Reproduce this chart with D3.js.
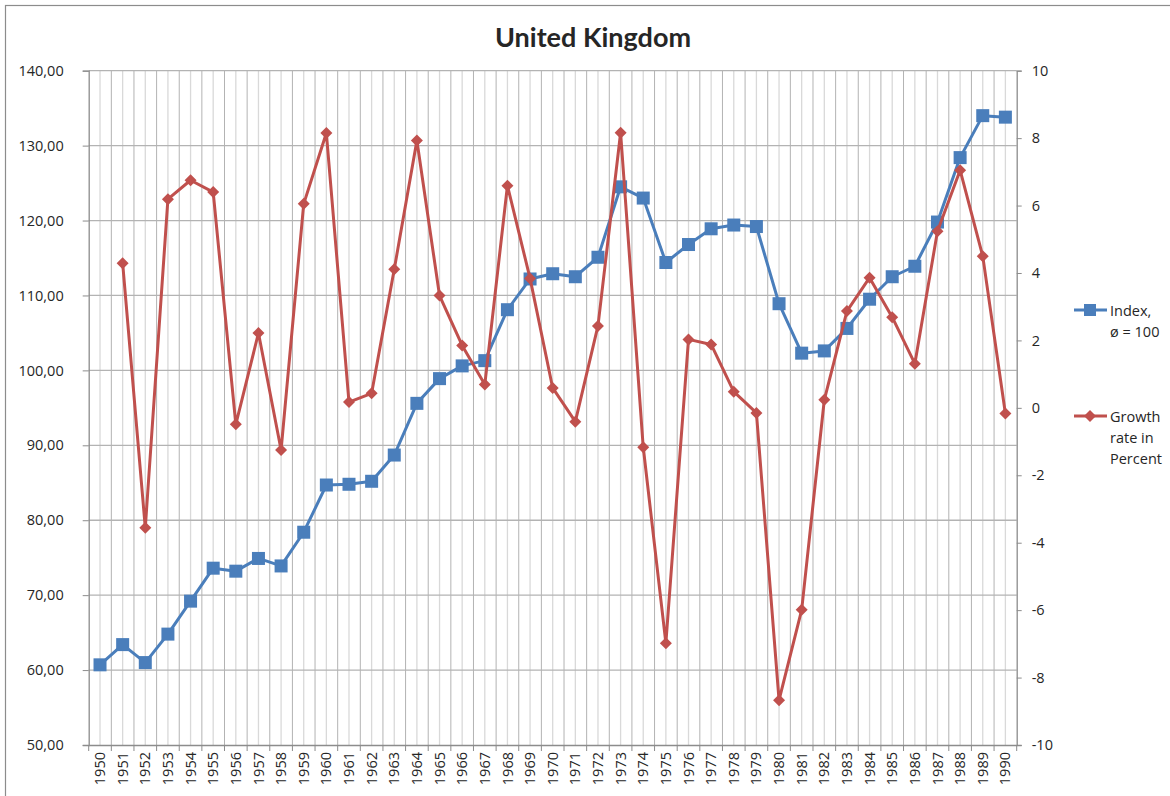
<!DOCTYPE html>
<html>
<head>
<meta charset="utf-8">
<script src="https://cdn.jsdelivr.net/npm/d3@7"></script>
<style>
  body { margin: 0; background: #fff; }
  text { font-family: "Open Sans", "Noto Sans", sans-serif; fill: #262626; }
</style>
</head>
<body>
<div id="chart"></div>
<script>
// Years on the category axis
const years = d3.range(1950, 1991).map(String);

// Index, ø = 100 (left axis)
const indexValues = [
    60.7, 63.4, 61.0, 64.8, 69.2, 73.6, 73.2, 74.9, 73.9, 78.4,
    84.7, 84.8, 85.2, 88.7, 95.6, 98.9, 100.6, 101.3, 108.1, 112.2,
    112.9, 112.5, 115.1, 124.5, 123.0, 114.4, 116.8, 118.9, 119.4, 119.2,
    108.9, 102.3, 102.6, 105.6, 109.5, 112.5, 113.9, 119.8, 128.4, 134.0, 133.8
];

// Growth rate in percent (right axis), none for 1950
const growthValues = [
    null, 4.29, -3.56, 6.19, 6.75, 6.40, -0.49, 2.22, -1.25, 6.05,
    8.15, 0.17, 0.43, 4.11, 7.93, 3.33, 1.85, 0.69, 6.59, 3.84,
    0.59, -0.41, 2.43, 8.16, -1.17, -6.98, 2.03, 1.88, 0.48, -0.15,
    -8.67, -5.99, 0.24, 2.87, 3.86, 2.69, 1.31, 5.24, 7.05, 4.50, -0.17
];

const leftTicks = d3.range(50, 141, 10);
const rightTicks = d3.range(-10, 11, 2);

const W = 1170, H = 796;
const plot = { left: 88.7, right: 1016.7, top: 70.7, bottom: 745 };

const svg = d3.select("#chart")
    .append("svg")
    .attr("width", W)
    .attr("height", H);

// chart area border
svg.append("rect")
    .attr("x", 5.5).attr("y", 5.5)
    .attr("width", 1180).attr("height", 820)
    .attr("fill", "none")
    .attr("stroke", "#8c8c8c")
    .attr("stroke-width", 1.2);

const x = d3.scaleBand()
    .domain(years)
    .range([plot.left, plot.right])
    .padding(0);

const yLeft = d3.scaleLinear()
    .domain([50, 140])
    .range([plot.bottom, plot.top]);

const yRight = d3.scaleLinear()
    .domain([-10, 10])
    .range([plot.bottom, plot.top]);

const cx = d => x(d) + x.bandwidth() / 2;

// minor vertical gridlines at category centres
svg.append("g")
    .selectAll("line")
    .data(years)
    .enter()
    .append("line")
    .attr("x1", d => cx(d)).attr("x2", d => cx(d))
    .attr("y1", plot.top).attr("y2", plot.bottom)
    .attr("stroke", "#d9d9d9")
    .attr("stroke-width", 1.3);

// major vertical gridlines at category boundaries
svg.append("g")
    .selectAll("line")
    .data(years.slice(1))
    .enter()
    .append("line")
    .attr("x1", d => x(d)).attr("x2", d => x(d))
    .attr("y1", plot.top).attr("y2", plot.bottom)
    .attr("stroke", "#b3b3b3")
    .attr("stroke-width", 1);

// horizontal gridlines
svg.append("g")
    .selectAll("line")
    .data(leftTicks.slice(1))
    .enter()
    .append("line")
    .attr("x1", plot.left).attr("x2", plot.right)
    .attr("y1", d => yLeft(d)).attr("y2", d => yLeft(d))
    .attr("stroke", "#b3b3b3")
    .attr("stroke-width", 1.3);

// axes
const axisColor = "#8c8c8c";

const gLeft = svg.append("g")
    .attr("transform", `translate(${plot.left},0)`)
    .call(d3.axisLeft(yLeft).tickValues(leftTicks).tickSize(6).tickPadding(19)
        .tickFormat(d => d3.format(".2f")(d).replace(".", ",")));

const gRight = svg.append("g")
    .attr("transform", `translate(${plot.right},0)`)
    .call(d3.axisRight(yRight).tickValues(rightTicks).tickSize(5).tickPadding(10)
        .tickFormat(d => String(d)));

const gBottom = svg.append("g")
    .attr("transform", `translate(0,${plot.bottom})`)
    .call(d3.axisBottom(x).tickSize(0).tickPadding(0));

// tick marks at category boundaries on the bottom axis
gBottom.selectAll(".boundary")
    .data(years.concat(["end"]))
    .enter()
    .append("line")
    .attr("class", "boundary")
    .attr("x1", (d, i) => i < years.length ? x(d) : plot.right)
    .attr("x2", (d, i) => i < years.length ? x(d) : plot.right)
    .attr("y1", 0).attr("y2", 6)
    .attr("stroke", axisColor);

[gLeft, gRight, gBottom].forEach(g => {
    g.select(".domain").attr("stroke", axisColor).attr("stroke-width", 1.3);
    g.selectAll(".tick line").attr("stroke", axisColor);
    g.selectAll("text")
        .style("font-family", "'Open Sans', 'Noto Sans', sans-serif")
        .style("font-size", "14.5px")
        .attr("fill", "#262626");
});

gBottom.selectAll(".tick text")
    .attr("transform", "rotate(-90)")
    .attr("text-anchor", "end")
    .attr("x", -7)
    .attr("y", 0)
    .attr("dy", "0.35em");

// title
svg.append("text")
    .attr("x", 593)
    .attr("y", 47)
    .attr("text-anchor", "middle")
    .style("font-family", "Lato, 'Open Sans', sans-serif")
    .style("font-size", "27px")
    .style("font-weight", "bold")
    .attr("fill", "#000")
    .text("United Kingdom");

const blue = "#4a7ebb";
const red = "#c0504d";

// index series
const indexData = years.map((y, i) => ({ year: y, value: indexValues[i] }));
const growthData = years.map((y, i) => ({ year: y, value: growthValues[i] }));

svg.append("path")
    .datum(indexData)
    .attr("d", d3.line().x(d => cx(d.year)).y(d => yLeft(d.value)))
    .attr("fill", "none")
    .attr("stroke", blue)
    .attr("stroke-width", 3)
    .attr("stroke-linejoin", "round");

svg.selectAll(".sq")
    .data(indexData)
    .enter()
    .append("rect")
    .attr("class", "sq")
    .attr("x", d => cx(d.year) - 6.5)
    .attr("y", d => yLeft(d.value) - 6.5)
    .attr("width", 13).attr("height", 13)
    .attr("fill", blue);

// growth series
svg.append("path")
    .datum(growthData)
    .attr("d", d3.line().defined(d => d.value !== null).x(d => cx(d.year)).y(d => yRight(d.value)))
    .attr("fill", "none")
    .attr("stroke", red)
    .attr("stroke-width", 3)
    .attr("stroke-linejoin", "round");

const diamond = d3.symbol().type(d3.symbolSquare).size(72);

svg.selectAll(".dia")
    .data(growthData.filter(d => d.value !== null))
    .enter()
    .append("path")
    .attr("class", "dia")
    .attr("d", diamond)
    .attr("transform", d => `translate(${cx(d.year)},${yRight(d.value)}) rotate(45)`)
    .attr("fill", red);

// legend
const legend = svg.append("g");
const legendItems = [
    { color: blue, y: 310, lines: ["Index,", "ø = 100"], marker: "square" },
    { color: red, y: 416, lines: ["Growth", "rate in", "Percent"], marker: "diamond" }
];

legendItems.forEach(item => {
    legend.append("line")
        .attr("x1", 1074).attr("x2", 1107)
        .attr("y1", item.y).attr("y2", item.y)
        .attr("stroke", item.color)
        .attr("stroke-width", 3);
    if (item.marker === "square") {
        legend.append("rect")
            .attr("x", 1084).attr("y", item.y - 6)
            .attr("width", 12).attr("height", 12)
            .attr("fill", item.color);
    } else {
        legend.append("path")
            .attr("d", diamond)
            .attr("transform", `translate(1090,${item.y}) rotate(45)`)
            .attr("fill", item.color);
    }
    item.lines.forEach((t, i) => {
        legend.append("text")
            .attr("x", 1110)
            .attr("y", item.y + 6 + i * 21)
            .style("font-size", "14.5px")
            .text(t);
    });
});
</script>
</body>
</html>
